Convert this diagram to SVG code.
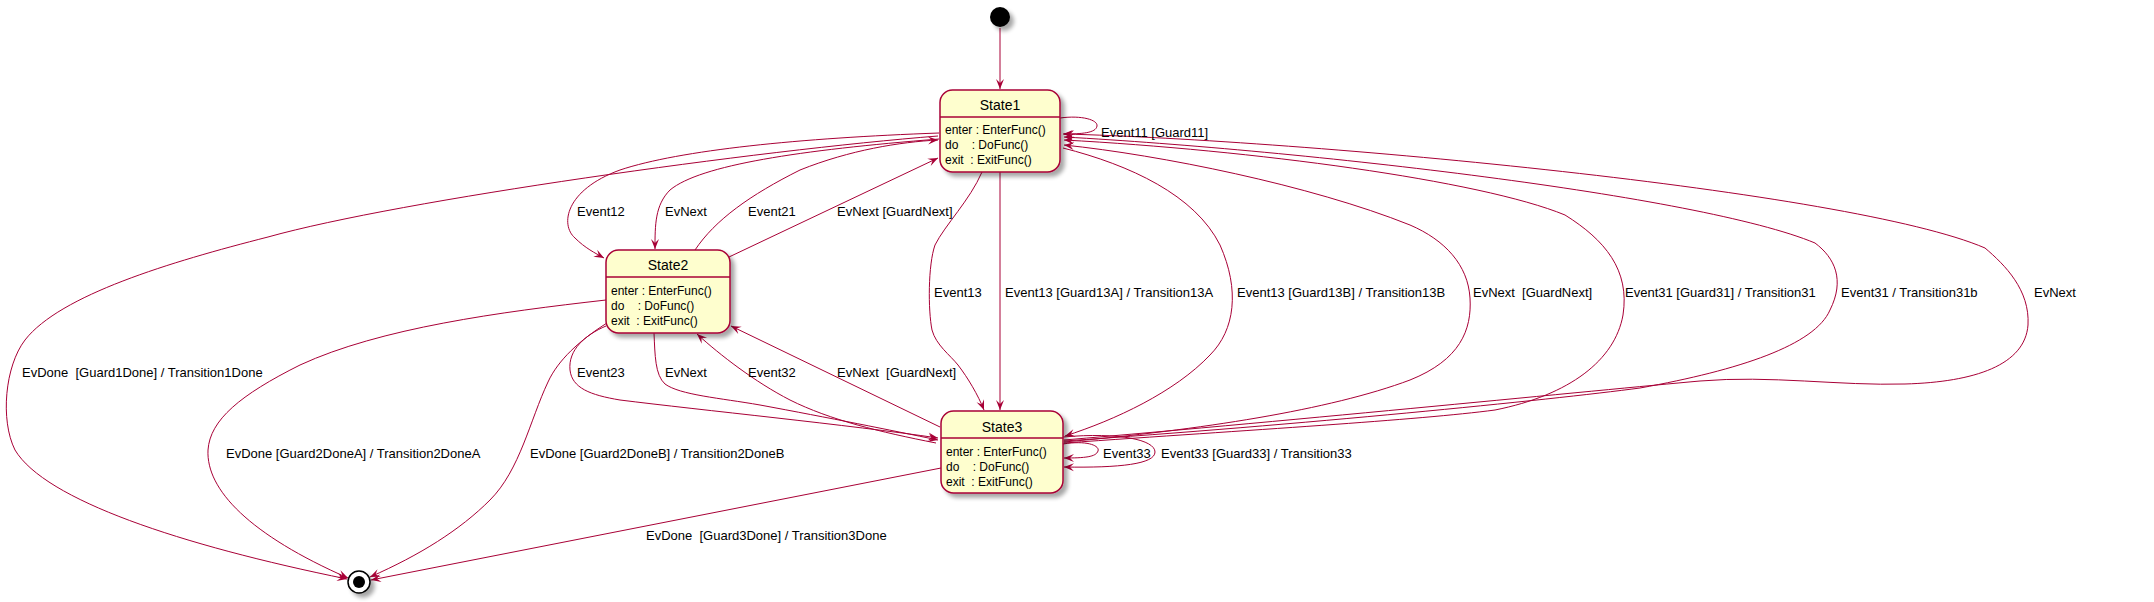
<svg xmlns="http://www.w3.org/2000/svg" width="2154" height="602" viewBox="0 0 2154 602">
<style>
.st{fill:#FEFECE;stroke:#A80036;stroke-width:1.5}
.sep{stroke:#A80036;stroke-width:1.5}
.tt{font-family:"Liberation Sans",Arial,sans-serif;font-size:14px;fill:#000;text-anchor:middle}
.bd{font-family:"Liberation Sans",Arial,sans-serif;font-size:12px;fill:#000;white-space:pre}
.lb{font-family:"Liberation Sans",Arial,sans-serif;font-size:13px;fill:#000;white-space:pre}
#edges path{fill:none;stroke:#A80036;stroke-width:1;marker-end:url(#ah)}
</style>
<defs>
<marker id="ah" markerUnits="userSpaceOnUse" markerWidth="12" markerHeight="10" viewBox="-11 -5 12 10" refX="0" refY="0" orient="auto"><path d="M0,0 L-10,-4 L-6,0 L-10,4 Z" fill="#A80036"/></marker>
<filter id="sh" x="-30%" y="-30%" width="170%" height="170%"><feGaussianBlur in="SourceAlpha" stdDeviation="2"/><feOffset dx="4" dy="4" result="o"/><feComponentTransfer in="o" result="s"><feFuncA type="linear" slope="0.35"/></feComponentTransfer><feMerge><feMergeNode in="s"/><feMergeNode in="SourceGraphic"/></feMerge></filter>
</defs>
<rect width="2154" height="602" fill="#fff"/>
<g id="edges">
<path d="M1000,28 L1000,89"/>
<path d="M1060,118 C1082,115 1098,120 1097,126 C1096,133 1082,134 1063,134"/>
<path d="M939,133 C800,138 680,150 620,170 C565,190 560,225 575,238 C585,248 595,253 604,258"/>
<path d="M939,139 C800,150 700,165 670,190 C655,205 655,225 655,249"/>
<path d="M695,250 C715,220 750,195 800,170 C850,150 900,142 938,140"/>
<path d="M729,257 L938,158"/>
<path d="M982,172 C970,200 945,225 935,245 C928,265 928,310 932,330 C936,345 950,355 958,365 C968,378 978,395 984,410"/>
<path d="M1000,172 L1000,410"/>
<path d="M1063,148 C1130,165 1195,195 1220,245 C1240,290 1235,330 1210,355 C1175,392 1115,420 1065,436"/>
<path d="M1064,442 C1200,430 1330,410 1410,380 C1460,360 1472,330 1470,298 C1468,265 1445,240 1410,225 C1310,185 1160,155 1064,145"/>
<path d="M1064,443 C1250,430 1420,420 1495,410 C1570,395 1615,360 1623,315 C1630,270 1605,240 1565,215 C1480,180 1250,150 1064,140"/>
<path d="M1064,441 C1300,425 1550,400 1640,388 C1740,370 1815,345 1830,310 C1845,280 1835,258 1815,243 C1700,195 1300,150 1064,137"/>
<path d="M1064,440 C1300,420 1600,390 1700,381 C1770,375 1840,386 1905,384 C1975,382 2025,365 2028,325 C2030,290 2005,265 1985,248 C1850,190 1300,140 1064,134"/>
<path d="M606,326 C585,335 568,350 570,370 C572,388 590,395 620,400 C700,410 850,425 938,438"/>
<path d="M654,333 C655,355 655,375 665,384 C680,395 720,398 760,405 C830,418 890,430 938,440"/>
<path d="M936,443 C880,432 830,420 790,400 C755,382 720,355 697,334"/>
<path d="M940,427 L731,326"/>
<path d="M1063,444 C1088,440 1100,446 1098,451 C1096,457 1085,458 1064,458"/>
<path d="M1063,437 C1120,432 1155,440 1155,452 C1155,464 1120,468 1064,467"/>
<path d="M938,136 C760,150 400,200 268,237 C170,262 60,295 25,340 C5,366 0,420 15,450 C45,500 180,545 347,579"/>
<path d="M606,300 C500,312 380,328 300,365 C240,395 210,420 208,450 C206,490 250,535 348,578"/>
<path d="M607,323 C580,340 558,360 548,382 C530,420 520,470 490,500 C460,530 420,555 370,577"/>
<path d="M941,468 L371,580"/>
</g>
<g id="init"><circle cx="1000" cy="17" r="10" fill="#000" filter="url(#sh)"/></g>
<g id="final" filter="url(#sh)"><circle cx="359" cy="582" r="11" fill="#fff" stroke="#000" stroke-width="1.5"/><circle cx="359" cy="582" r="6" fill="#000"/></g>
<g id="State1">
<rect class="st" x="940" y="90" width="120" height="82" rx="12.5" filter="url(#sh)"/>
<line class="sep" x1="940" y1="117" x2="1060" y2="117"/>
<text class="tt" x="1000" y="110">State1</text>
<text class="bd" x="945" y="134">enter : EnterFunc()</text>
<text class="bd" x="945" y="149">do    : DoFunc()</text>
<text class="bd" x="945" y="164">exit  : ExitFunc()</text>
</g>
<g id="State2">
<rect class="st" x="606" y="250" width="124" height="83" rx="12.5" filter="url(#sh)"/>
<line class="sep" x1="606" y1="277" x2="730" y2="277"/>
<text class="tt" x="668" y="270">State2</text>
<text class="bd" x="611" y="295">enter : EnterFunc()</text>
<text class="bd" x="611" y="310">do    : DoFunc()</text>
<text class="bd" x="611" y="325">exit  : ExitFunc()</text>
</g>
<g id="State3">
<rect class="st" x="941" y="411" width="122" height="82" rx="12.5" filter="url(#sh)"/>
<line class="sep" x1="941" y1="438" x2="1063" y2="438"/>
<text class="tt" x="1002" y="432">State3</text>
<text class="bd" x="946" y="456">enter : EnterFunc()</text>
<text class="bd" x="946" y="471">do    : DoFunc()</text>
<text class="bd" x="946" y="486">exit  : ExitFunc()</text>
</g>
<g id="labels">
<text class="lb" x="1101" y="137">Event11 [Guard11]</text>
<text class="lb" x="577" y="216">Event12</text>
<text class="lb" x="665" y="216">EvNext</text>
<text class="lb" x="748" y="216">Event21</text>
<text class="lb" x="837" y="216">EvNext [GuardNext]</text>
<text class="lb" x="934" y="297">Event13</text>
<text class="lb" x="1005" y="297">Event13 [Guard13A] / Transition13A</text>
<text class="lb" x="1237" y="297">Event13 [Guard13B] / Transition13B</text>
<text class="lb" x="1473" y="297">EvNext  [GuardNext]</text>
<text class="lb" x="1625" y="297">Event31 [Guard31] / Transition31</text>
<text class="lb" x="1841" y="297">Event31 / Transition31b</text>
<text class="lb" x="2034" y="297">EvNext</text>
<text class="lb" x="22" y="377">EvDone  [Guard1Done] / Transition1Done</text>
<text class="lb" x="577" y="377">Event23</text>
<text class="lb" x="665" y="377">EvNext</text>
<text class="lb" x="748" y="377">Event32</text>
<text class="lb" x="837" y="377">EvNext  [GuardNext]</text>
<text class="lb" x="226" y="458">EvDone [Guard2DoneA] / Transition2DoneA</text>
<text class="lb" x="530" y="458">EvDone [Guard2DoneB] / Transition2DoneB</text>
<text class="lb" x="1103" y="458">Event33</text>
<text class="lb" x="1161" y="458">Event33 [Guard33] / Transition33</text>
<text class="lb" x="646" y="540">EvDone  [Guard3Done] / Transition3Done</text>
</g>
</svg>
